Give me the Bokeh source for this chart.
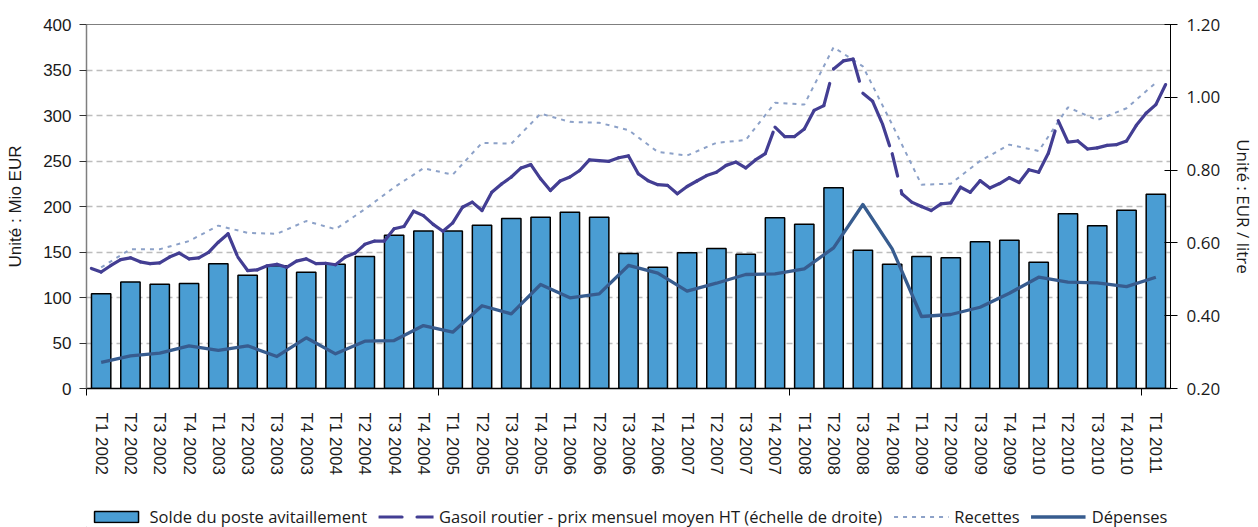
from bokeh.plotting import figure
from bokeh.layouts import column
from bokeh.models import (Range1d, LinearAxis, FixedTicker, NumeralTickFormatter,
                          Span, Legend, LegendItem, Grid)
from bokeh.embed import file_html
from bokeh.resources import INLINE

quarters = ["T1 2002", "T2 2002", "T3 2002", "T4 2002",
            "T1 2003", "T2 2003", "T3 2003", "T4 2003",
            "T1 2004", "T2 2004", "T3 2004", "T4 2004",
            "T1 2005", "T2 2005", "T3 2005", "T4 2005",
            "T1 2006", "T2 2006", "T3 2006", "T4 2006",
            "T1 2007", "T2 2007", "T3 2007", "T4 2007",
            "T1 2008", "T2 2008", "T3 2008", "T4 2008",
            "T1 2009", "T2 2009", "T3 2009", "T4 2009",
            "T1 2010", "T2 2010", "T3 2010", "T4 2010",
            "T1 2011"]

solde = [104, 117, 114.6, 115.4, 137, 124.5, 135, 127.8, 136.6, 145, 168.5, 173,
         173, 179.5, 186.8, 188.3, 193.8, 188.3, 148.4, 133.3, 149.1, 153.8, 147.6, 187.6,
         180.6, 220.5, 152, 136.6, 145, 143.6, 161.2, 163, 138.8, 192, 178.8, 196, 213.5]

depenses = [28.6, 35.9, 38.8, 46.9, 41.8, 46.9, 35.2, 55.7, 38.1, 52, 52.7, 69.2,
            61.9, 90.9, 82, 114.3, 99.6, 104, 135.2, 126.7, 107, 115.7, 125.3, 126,
            131.5, 154.6, 202.2, 153.5, 79.1, 81.3, 89.3, 104.7, 122.3, 116.8, 116.1, 112, 122.3]

recettes = [133, 153, 153, 162, 179, 171, 170, 184, 175, 197, 221, 242,
            235, 270, 269, 302, 293, 292, 284, 260, 256, 270, 273, 314,
            312, 375, 354, 290, 224, 225, 250, 268, 261, 309, 295, 308, 336]

# monthly road diesel price, Jan 2002 - Mar 2011 (EUR / litre, right scale)
gasoil = [0.530, 0.520, 0.538, 0.554, 0.559, 0.548, 0.543, 0.545, 0.561, 0.572, 0.556, 0.559,
          0.574, 0.602, 0.625, 0.561, 0.524, 0.526, 0.537, 0.541, 0.533, 0.550, 0.556, 0.543,
          0.544, 0.540, 0.561, 0.572, 0.596, 0.605, 0.605, 0.639, 0.645, 0.687, 0.675, 0.651,
          0.632, 0.655, 0.698, 0.712, 0.689, 0.739, 0.762, 0.781, 0.806, 0.815, 0.776, 0.744,
          0.770, 0.781, 0.799, 0.828, 0.826, 0.824, 0.834, 0.839, 0.790, 0.771, 0.760, 0.758,
          0.735, 0.755, 0.770, 0.785, 0.794, 0.813, 0.822, 0.806, 0.828, 0.845, 0.918, 0.892,
          0.892, 0.913, 0.964, 0.977, 1.078, 1.100, 1.105, 1.011, 0.989, 0.927, 0.845, 0.735,
          0.712, 0.700, 0.689, 0.707, 0.710, 0.753, 0.739, 0.771, 0.751, 0.763, 0.779, 0.766,
          0.801, 0.794, 0.847, 0.936, 0.877, 0.880, 0.858, 0.861, 0.868, 0.870, 0.880, 0.923,
          0.956, 0.980, 1.035]

left_ticks = [0, 50, 100, 150, 200, 250, 300, 350, 400]
right_ticks = [0.2, 0.4, 0.6, 0.8, 1.0, 1.2]

legend_labels = ["Solde du poste avitaillement",
                 "Gasoil routier - prix mensuel moyen HT (échelle de droite)",
                 "Recettes", "Dépenses"]

qx = list(range(len(quarters)))
mx = [m / 3 - 1 / 3 for m in range(len(gasoil))]

BAR = "#4A9DD3"
GAS = "#433E93"
REC = "#8CA1C8"
DEP = "#375C8F"

BAR_STYLE = dict(fill_color=BAR, line_color="black", line_width=1.5)
REC_STYLE = dict(line_color=REC, line_width=2, line_dash="4 5")
GAS_STYLE = dict(line_color=GAS, line_width=3.2, line_dash="23 15", line_cap="round")
DEP_STYLE = dict(line_color=DEP, line_width=3.3, line_join="round")

p = figure(width=1258, height=505, output_backend="svg", toolbar_location=None,
           x_range=Range1d(-0.5, 36.5), y_range=Range1d(0, 400),
           x_axis_type=None, y_axis_type=None,
           min_border_left=86, min_border_right=81, min_border_top=24, min_border_bottom=117)
p.outline_line_color = None
p.background_fill_color = "white"
p.border_fill_color = "white"
p.extra_y_ranges = {"right": Range1d(0.2, 1.2)}

# grid
p.add_layout(Grid(dimension=1, ticker=FixedTicker(ticks=left_ticks[1:-1]),
                  grid_line_color="#BDBDBD", grid_line_dash="6 4", grid_line_width=1.6))
p.add_layout(Span(location=400, dimension="width", line_color="black", line_width=1))

# axes
xaxis = LinearAxis(ticker=FixedTicker(ticks=qx, minor_ticks=[-0.5, 11.5, 23.5, 35.5]),
                   major_label_overrides={i: q for i, q in zip(qx, quarters)})
xaxis.major_label_orientation = "vertical"
xaxis.major_tick_out = 0
xaxis.major_tick_in = 0
xaxis.minor_tick_out = 7
xaxis.minor_tick_in = 0
xaxis.minor_tick_line_color = "black"
xaxis.axis_line_color = "black"
xaxis.axis_line_width = 1.5
xaxis.major_label_standoff = 17
xaxis.major_label_text_font = "Liberation Sans"
xaxis.major_label_text_font_size = "17px"
xaxis.major_label_text_color = "#1a1a1a"
p.add_layout(xaxis, "below")

yaxis = LinearAxis(ticker=FixedTicker(ticks=left_ticks), axis_label="Unité : Mio EUR")
yaxis.axis_line_color = "#7F7F7F"
yaxis.axis_line_width = 1.5
yaxis.major_tick_out = 7
yaxis.major_tick_in = 0
yaxis.major_tick_line_color = "#333333"
yaxis.minor_tick_line_color = None
yaxis.major_label_standoff = 8
yaxis.major_label_text_font = "Liberation Sans"
yaxis.major_label_text_font_size = "17px"
yaxis.major_label_text_color = "#1a1a1a"
yaxis.axis_label_text_font = "Liberation Sans"
yaxis.axis_label_text_font_size = "17px"
yaxis.axis_label_text_font_style = "normal"
yaxis.axis_label_text_color = "#1a1a1a"
yaxis.axis_label_standoff = 15
p.add_layout(yaxis, "left")

raxis = LinearAxis(y_range_name="right", ticker=FixedTicker(ticks=right_ticks),
                   formatter=NumeralTickFormatter(format="0.00"),
                   axis_label="Unité : EUR / litre")
raxis.axis_line_color = "black"
raxis.axis_line_width = 1
raxis.major_tick_out = 7
raxis.major_tick_in = 6
raxis.major_tick_line_color = "black"
raxis.minor_tick_line_color = None
raxis.major_label_standoff = 9
raxis.major_label_text_font = "Open Sans"
raxis.major_label_text_font_size = "17px"
raxis.major_label_text_color = "#1a1a1a"
raxis.axis_label_text_font = "Open Sans"
raxis.axis_label_text_font_size = "17px"
raxis.axis_label_text_font_style = "normal"
raxis.axis_label_text_color = "#1a1a1a"
raxis.axis_label_standoff = 9
p.add_layout(raxis, "right")

# glyphs
p.vbar(x=qx, top=solde, width=0.66, **BAR_STYLE)
p.line(qx, recettes, **REC_STYLE)
p.segment(x0=mx[:-1], y0=gasoil[:-1], x1=mx[1:], y1=gasoil[1:], y_range_name="right",
          **GAS_STYLE)
p.line(qx, depenses, **DEP_STYLE)

# legend strip below the chart
lf = figure(width=1258, height=22, output_backend="svg", toolbar_location=None,
            x_range=Range1d(0, 1), y_range=Range1d(0, 1),
            x_axis_type=None, y_axis_type=None, min_border=0)
lf.outline_line_color = None
lf.background_fill_color = "white"
lf.border_fill_color = "white"
r1 = lf.vbar(x=[-5], top=[-5], width=0.1, **BAR_STYLE)
r2 = lf.segment(x0=[-5], y0=[-5], x1=[-4], y1=[-4], **GAS_STYLE)
r3 = lf.line([-5, -4], [-5, -4], **REC_STYLE)
r4 = lf.line([-5, -4], [-5, -4], **DEP_STYLE)

legend = Legend(items=[LegendItem(label=lab, renderers=[r]) for lab, r in
                       zip(legend_labels, [r1, r2, r3, r4])],
                orientation="horizontal", location="center")
legend.glyph_width = 55
legend.glyph_height = 14
legend.label_standoff = 6
legend.spacing = 11
legend.padding = 0
legend.margin = 0
legend.border_line_color = None
legend.background_fill_alpha = 0
legend.label_text_font = "Open Sans"
legend.label_text_font_size = "16.5px"
legend.label_text_color = "#1a1a1a"
legend.label_height = 14
lf.add_layout(legend)

layout = column(p, lf, spacing=0)
open("out.html", "w").write(file_html(layout, INLINE))
